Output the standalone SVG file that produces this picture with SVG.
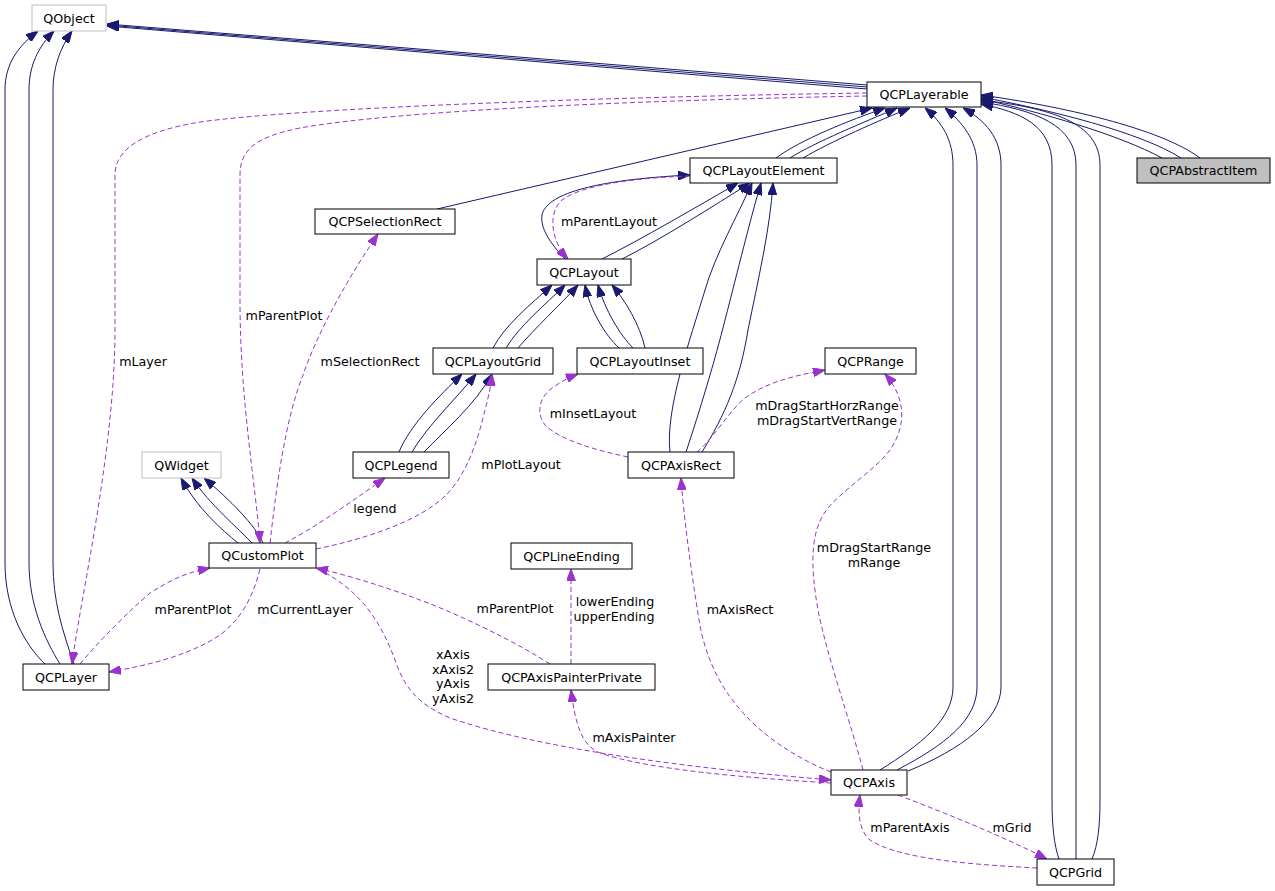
<svg xmlns="http://www.w3.org/2000/svg" width="1275" height="891" viewBox="0 0 1275 891">
<style>
.node rect{fill:#fff;stroke:#000;stroke-width:1}
.node.ext rect{stroke:#bfbfbf}
.node.cur rect{fill:#bfbfbf}
text{font-family:"DejaVu Sans","Liberation Sans",sans-serif;font-size:12.7px;fill:#000;text-anchor:middle}
.inh{fill:none;stroke:#191970;stroke-width:1;marker-end:url(#ah)}
.use{fill:none;stroke:#9a32cd;stroke-width:1;stroke-dasharray:5,3;marker-end:url(#au)}
</style>
<defs>
<marker id="ah" viewBox="0 0 12 9" refX="12" refY="4.5" markerWidth="12" markerHeight="9" markerUnits="userSpaceOnUse" orient="auto"><path d="M0,0 L12,4.5 L0,9 z" fill="#191970" stroke="#191970"/></marker>
<marker id="au" viewBox="0 0 12 9" refX="12" refY="4.5" markerWidth="12" markerHeight="9" markerUnits="userSpaceOnUse" orient="auto"><path d="M0,0 L12,4.5 L0,9 z" fill="#9a32cd" stroke="#9a32cd"/></marker>
</defs>
<rect width="1275" height="891" fill="#fff"/>
<g id="connectors">
<!-- inheritance -->
<path class="inh" d="M867,85 L107,24"/>
<path class="inh" d="M867,87 L107,25"/>
<path class="inh" d="M867,89 L107,26"/>
<path class="inh" d="M45,664 C25,645 5,610 5,563 L5,90 C5,64 18,46 38,31"/>
<path class="inh" d="M60,664 C45,640 29,605 29,563 L29,90 C29,66 38,47 54,31"/>
<path class="inh" d="M74,664 C62,630 53,600 53,563 L53,90 C53,68 60,48 72,31"/>
<path class="inh" d="M238,543 C222,530 197,508 181,478"/>
<path class="inh" d="M252,543 C238,528 210,505 192,478"/>
<path class="inh" d="M263,543 C255,525 230,500 204,478"/>
<path class="inh" d="M437,209 L872,108"/>
<path class="inh" d="M776,158 C800,140 850,120 885,108"/>
<path class="inh" d="M790,158 C815,142 865,122 897,108"/>
<path class="inh" d="M803,158 C830,142 880,120 910,108"/>
<path class="inh" d="M1162,158 C1120,135 1040,112 981,99"/>
<path class="inh" d="M1181,158 C1140,132 1050,110 981,97"/>
<path class="inh" d="M1200,158 C1160,128 1060,106 981,95"/>
<path class="inh" d="M880,770 C920,745 953,720 953,687 L953,165 C953,140 942,122 925,108"/>
<path class="inh" d="M897,770 C945,745 977,720 977,687 L977,165 C977,140 962,122 945,108"/>
<path class="inh" d="M908,771 C960,750 1001,720 1001,687 L1001,165 C1001,138 985,120 963,108"/>
<path class="inh" d="M1059,859 C1054,845 1052,825 1052,800 L1052,165 C1052,125 1020,112 981,104"/>
<path class="inh" d="M1076,859 L1076,165 C1076,125 1035,110 981,102"/>
<path class="inh" d="M1092,859 C1098,845 1100,825 1100,800 L1100,165 C1100,122 1050,108 981,100"/>
<path class="inh" d="M565,259 C550,243 540,228 542,215 C546,195 590,180 690,175"/>
<path class="inh" d="M602,259 C640,240 700,205 738,183"/>
<path class="inh" d="M622,259 C660,240 715,205 750,183"/>
<path class="inh" d="M670,452 C665,410 690,340 705,290 C715,255 738,215 752,183"/>
<path class="inh" d="M686,452 C700,410 715,360 725,320 C738,270 750,220 761,183"/>
<path class="inh" d="M702,452 C725,415 740,380 748,330 C758,280 770,230 773,183"/>
<path class="inh" d="M493,348 C505,325 530,305 552,285"/>
<path class="inh" d="M506,348 C520,325 545,305 565,285"/>
<path class="inh" d="M518,348 C535,328 560,305 578,285"/>
<path class="inh" d="M619,348 C605,335 590,310 585,285"/>
<path class="inh" d="M633,348 C620,335 605,310 598,285"/>
<path class="inh" d="M645,348 C640,325 625,300 612,285"/>
<path class="inh" d="M399,452 C410,425 440,395 462,374"/>
<path class="inh" d="M412,452 C428,425 455,400 476,374"/>
<path class="inh" d="M424,452 C445,430 475,405 492,374"/>
<!-- usage -->
<path class="use" d="M867,93 C600,97 300,108 200,122 C140,132 115,150 115,175 L115,330 C115,450 80,600 72,664"/>
<path class="use" d="M867,96 C650,100 400,110 300,128 C255,137 240,150 240,175 L240,300 C240,400 255,480 260,543"/>
<path class="use" d="M270,543 C276,490 285,420 303,375 C315,340 340,290 378,234"/>
<path class="use" d="M690,176 C630,178 580,186 562,200 C548,212 550,240 568,259"/>
<path class="use" d="M285,543 C310,530 340,510 385,478"/>
<path class="use" d="M316,549 C370,538 420,520 445,496 C470,472 480,430 485,410 C489,395 491,385 492,374"/>
<path class="use" d="M628,457 C595,450 560,440 545,425 C535,412 540,395 555,386 C562,381 570,377 578,374"/>
<path class="use" d="M697,452 C712,440 730,410 745,398 C770,380 800,375 825,370"/>
<path class="use" d="M863,770 C850,720 828,660 818,610 C810,565 810,530 828,508 C845,488 875,470 890,450 C905,428 908,400 885,374"/>
<path class="use" d="M831,772 C805,762 770,742 745,715 C718,686 705,655 699,620 C691,570 684,520 681,478"/>
<path class="use" d="M571,664 L571,569"/>
<path class="use" d="M550,664 C520,645 490,630 450,612 C410,595 360,578 316,568"/>
<path class="use" d="M318,569 C360,590 380,620 395,660 C405,690 420,705 450,718 C520,742 640,764 831,780"/>
<path class="use" d="M831,783 C750,778 650,770 600,753 C580,745 575,720 571,690"/>
<path class="use" d="M898,795 C950,815 1000,835 1047,859"/>
<path class="use" d="M1037,868 C980,865 900,860 870,840 C858,830 858,810 860,795"/>
<path class="use" d="M80,664 C100,640 130,610 150,593 C175,577 190,572 210,568"/>
<path class="use" d="M260,569 C252,600 240,620 220,635 C190,655 150,665 109,672"/>
<!-- labels -->
<text x="143" y="366">mLayer</text>
<text x="284" y="320">mParentPlot</text>
<text x="370" y="366">mSelectionRect</text>
<text x="609" y="226">mParentLayout</text>
<text x="375" y="513">legend</text>
<text x="521" y="469">mPlotLayout</text>
<text x="593" y="418">mInsetLayout</text>
<text x="827" y="410">mDragStartHorzRange</text>
<text x="827" y="425">mDragStartVertRange</text>
<text x="874" y="552">mDragStartRange</text>
<text x="874" y="567">mRange</text>
<text x="740" y="614">mAxisRect</text>
<text x="615" y="606">lowerEnding</text>
<text x="614" y="621">upperEnding</text>
<text x="515" y="613">mParentPlot</text>
<text x="453" y="659">xAxis</text>
<text x="453" y="674">xAxis2</text>
<text x="453" y="688">yAxis</text>
<text x="453" y="703">yAxis2</text>
<text x="634" y="742">mAxisPainter</text>
<text x="1012" y="832">mGrid</text>
<text x="910" y="832">mParentAxis</text>
<text x="193" y="614">mParentPlot</text>
<text x="305" y="614">mCurrentLayer</text>
</g>
<g id="QObject" class="node ext"><rect x="32" y="5" width="74" height="26"/><text x="69" y="22.5">QObject</text></g>
<g id="QCPLayerable" class="node"><rect x="867" y="82" width="114" height="25"/><text x="924" y="99">QCPLayerable</text></g>
<g id="QCPAbstractItem" class="node cur"><rect x="1137" y="158" width="133" height="25"/><text x="1203.5" y="175">QCPAbstractItem</text></g>
<g id="QCPLayoutElement" class="node"><rect x="690" y="158" width="147" height="25"/><text x="763.5" y="175">QCPLayoutElement</text></g>
<g id="QCPSelectionRect" class="node"><rect x="315" y="209" width="140" height="25"/><text x="385" y="226">QCPSelectionRect</text></g>
<g id="QCPLayout" class="node"><rect x="537" y="259" width="94" height="26"/><text x="584" y="276.5">QCPLayout</text></g>
<g id="QCPLayoutGrid" class="node"><rect x="433" y="348" width="120" height="26"/><text x="493" y="365.5">QCPLayoutGrid</text></g>
<g id="QCPLayoutInset" class="node"><rect x="577" y="348" width="126" height="26"/><text x="640" y="365.5">QCPLayoutInset</text></g>
<g id="QCPRange" class="node"><rect x="825" y="348" width="91" height="26"/><text x="870.5" y="365.5">QCPRange</text></g>
<g id="QCPLegend" class="node"><rect x="353" y="452" width="96" height="26"/><text x="401" y="469.5">QCPLegend</text></g>
<g id="QCPAxisRect" class="node"><rect x="628" y="452" width="106" height="26"/><text x="681" y="469.5">QCPAxisRect</text></g>
<g id="QWidget" class="node ext"><rect x="142" y="452" width="79" height="26"/><text x="181.5" y="469.5">QWidget</text></g>
<g id="QCustomPlot" class="node"><rect x="209" y="543" width="107" height="25"/><text x="262.5" y="560">QCustomPlot</text></g>
<g id="QCPLineEnding" class="node"><rect x="511" y="543" width="121" height="26"/><text x="571.5" y="560.5">QCPLineEnding</text></g>
<g id="QCPLayer" class="node"><rect x="23" y="664" width="86" height="26"/><text x="66" y="681.5">QCPLayer</text></g>
<g id="QCPAxisPainterPrivate" class="node"><rect x="488" y="664" width="167" height="26"/><text x="571.5" y="681.5">QCPAxisPainterPrivate</text></g>
<g id="QCPAxis" class="node"><rect x="831" y="770" width="76" height="25"/><text x="869" y="787">QCPAxis</text></g>
<g id="QCPGrid" class="node"><rect x="1037" y="859" width="77" height="26"/><text x="1075.5" y="876.5">QCPGrid</text></g>
</svg>
